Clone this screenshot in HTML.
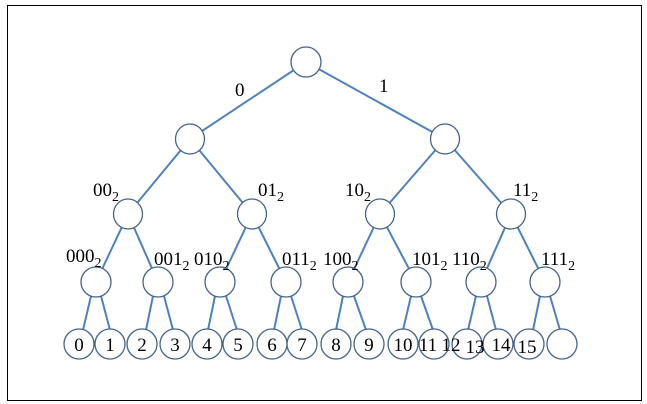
<!DOCTYPE html>
<html><head><style>
html,body{margin:0;padding:0;background:#fff;}
svg{display:block;}
text{font-family:"Liberation Serif",serif;font-size:19px;fill:#000;}
</style></head><body>
<svg width="647" height="404" viewBox="0 0 647 404" xmlns="http://www.w3.org/2000/svg">
<rect x="7.5" y="5.5" width="634" height="395" fill="#fff" stroke="#000" stroke-width="1"/>
<g stroke="#4f81bd" stroke-width="2">
<line x1="306" y1="62" x2="190" y2="139"/><line x1="306" y1="62" x2="445" y2="139"/>
<line x1="190" y1="139" x2="128" y2="214"/><line x1="190" y1="139" x2="252" y2="214"/>
<line x1="445" y1="139" x2="380" y2="214"/><line x1="445" y1="139" x2="511" y2="214"/>
<line x1="128" y1="214" x2="96" y2="282"/><line x1="128" y1="214" x2="158" y2="282"/>
<line x1="252" y1="214" x2="220" y2="282"/><line x1="252" y1="214" x2="286" y2="282"/>
<line x1="380" y1="214" x2="348" y2="282"/><line x1="380" y1="214" x2="416" y2="282"/>
<line x1="511" y1="214" x2="481" y2="282"/><line x1="511" y1="214" x2="545" y2="282"/>
<line x1="91" y1="296" x2="83" y2="330"/><line x1="101" y1="296" x2="110" y2="330"/>
<line x1="153" y1="296" x2="146" y2="330"/><line x1="164" y1="296" x2="173" y2="330"/>
<line x1="215" y1="296" x2="208" y2="330"/><line x1="226" y1="296" x2="237" y2="330"/>
<line x1="281" y1="296" x2="274" y2="330"/><line x1="291" y1="296" x2="302" y2="330"/>
<line x1="343" y1="296" x2="336" y2="330"/><line x1="354" y1="296" x2="366" y2="330"/>
<line x1="411" y1="296" x2="403" y2="330"/><line x1="421" y1="296" x2="433" y2="330"/>
<line x1="476" y1="296" x2="468" y2="330"/><line x1="487" y1="296" x2="496" y2="330"/>
<line x1="540" y1="296" x2="533" y2="330"/><line x1="550" y1="296" x2="560" y2="330"/>
</g>
<g fill="#fff" stroke="#44648c" stroke-width="1.3">
<ellipse cx="306" cy="62" rx="15" ry="15"/>
<ellipse cx="190" cy="139" rx="14.5" ry="15"/><ellipse cx="445" cy="139" rx="14.5" ry="15"/>
<ellipse cx="128" cy="214" rx="14.5" ry="15"/><ellipse cx="252" cy="214" rx="14.5" ry="15"/>
<ellipse cx="380" cy="214" rx="14.5" ry="15"/><ellipse cx="511" cy="214" rx="14.5" ry="15"/>
<ellipse cx="96" cy="282" rx="15" ry="15"/><ellipse cx="158" cy="282" rx="15" ry="15"/>
<ellipse cx="220" cy="282" rx="15" ry="15"/><ellipse cx="286" cy="282" rx="15" ry="15"/>
<ellipse cx="348" cy="282" rx="15" ry="15"/><ellipse cx="416" cy="282" rx="15" ry="15"/>
<ellipse cx="481" cy="282" rx="15" ry="15"/><ellipse cx="545" cy="282" rx="15" ry="15"/>
<ellipse cx="79" cy="344" rx="15" ry="15"/><ellipse cx="110" cy="344" rx="15" ry="15"/>
<ellipse cx="142" cy="344" rx="15" ry="15"/><ellipse cx="175" cy="344" rx="15" ry="15"/>
<ellipse cx="207" cy="344" rx="15" ry="15"/><ellipse cx="238" cy="344" rx="15" ry="15"/>
<ellipse cx="272" cy="344" rx="15" ry="15"/><ellipse cx="302" cy="344" rx="15" ry="15"/>
<ellipse cx="336" cy="344" rx="15" ry="15"/><ellipse cx="369" cy="344" rx="15" ry="15"/>
<ellipse cx="403" cy="344" rx="15" ry="15"/><ellipse cx="434" cy="344" rx="15" ry="15"/>
<ellipse cx="467" cy="344" rx="15" ry="15"/><ellipse cx="498" cy="344" rx="15" ry="15"/>
<ellipse cx="529" cy="344" rx="15" ry="15"/><ellipse cx="562" cy="344" rx="15" ry="15"/>
</g>
<text x="235" y="96">0</text>
<text x="379" y="92">1</text>
<text x="93" y="196">00<tspan font-size="14" dy="5">2</tspan></text>
<text x="258" y="196">01<tspan font-size="14" dy="5">2</tspan></text>
<text x="345" y="196">10<tspan font-size="14" dy="5">2</tspan></text>
<text x="513" y="196">11<tspan font-size="14" dy="5">2</tspan></text>
<text x="66" y="262">000<tspan font-size="14" dy="5">2</tspan></text>
<text x="154" y="265">001<tspan font-size="14" dy="5">2</tspan></text>
<text x="194" y="265">010<tspan font-size="14" dy="5">2</tspan></text>
<text x="282" y="265">011<tspan font-size="14" dy="5">2</tspan></text>
<text x="323" y="265">100<tspan font-size="14" dy="5">2</tspan></text>
<text x="412" y="265">101<tspan font-size="14" dy="5">2</tspan></text>
<text x="452" y="265">110<tspan font-size="14" dy="5">2</tspan></text>
<text x="541" y="265">111<tspan font-size="14" dy="5">2</tspan></text>
<g text-anchor="middle">
<text x="79" y="351">0</text><text x="110" y="351">1</text>
<text x="142" y="351">2</text><text x="175" y="351">3</text>
<text x="207" y="351">4</text><text x="238" y="351">5</text>
<text x="272" y="351">6</text><text x="302" y="351">7</text>
<text x="336" y="351">8</text><text x="369" y="351">9</text>
<text x="403" y="351">10</text><text x="428" y="351">11</text>
<text x="451" y="351">12</text><text x="475" y="353">13</text>
<text x="501" y="351">14</text><text x="527" y="353">15</text>
</g>
</svg>
</body></html>
